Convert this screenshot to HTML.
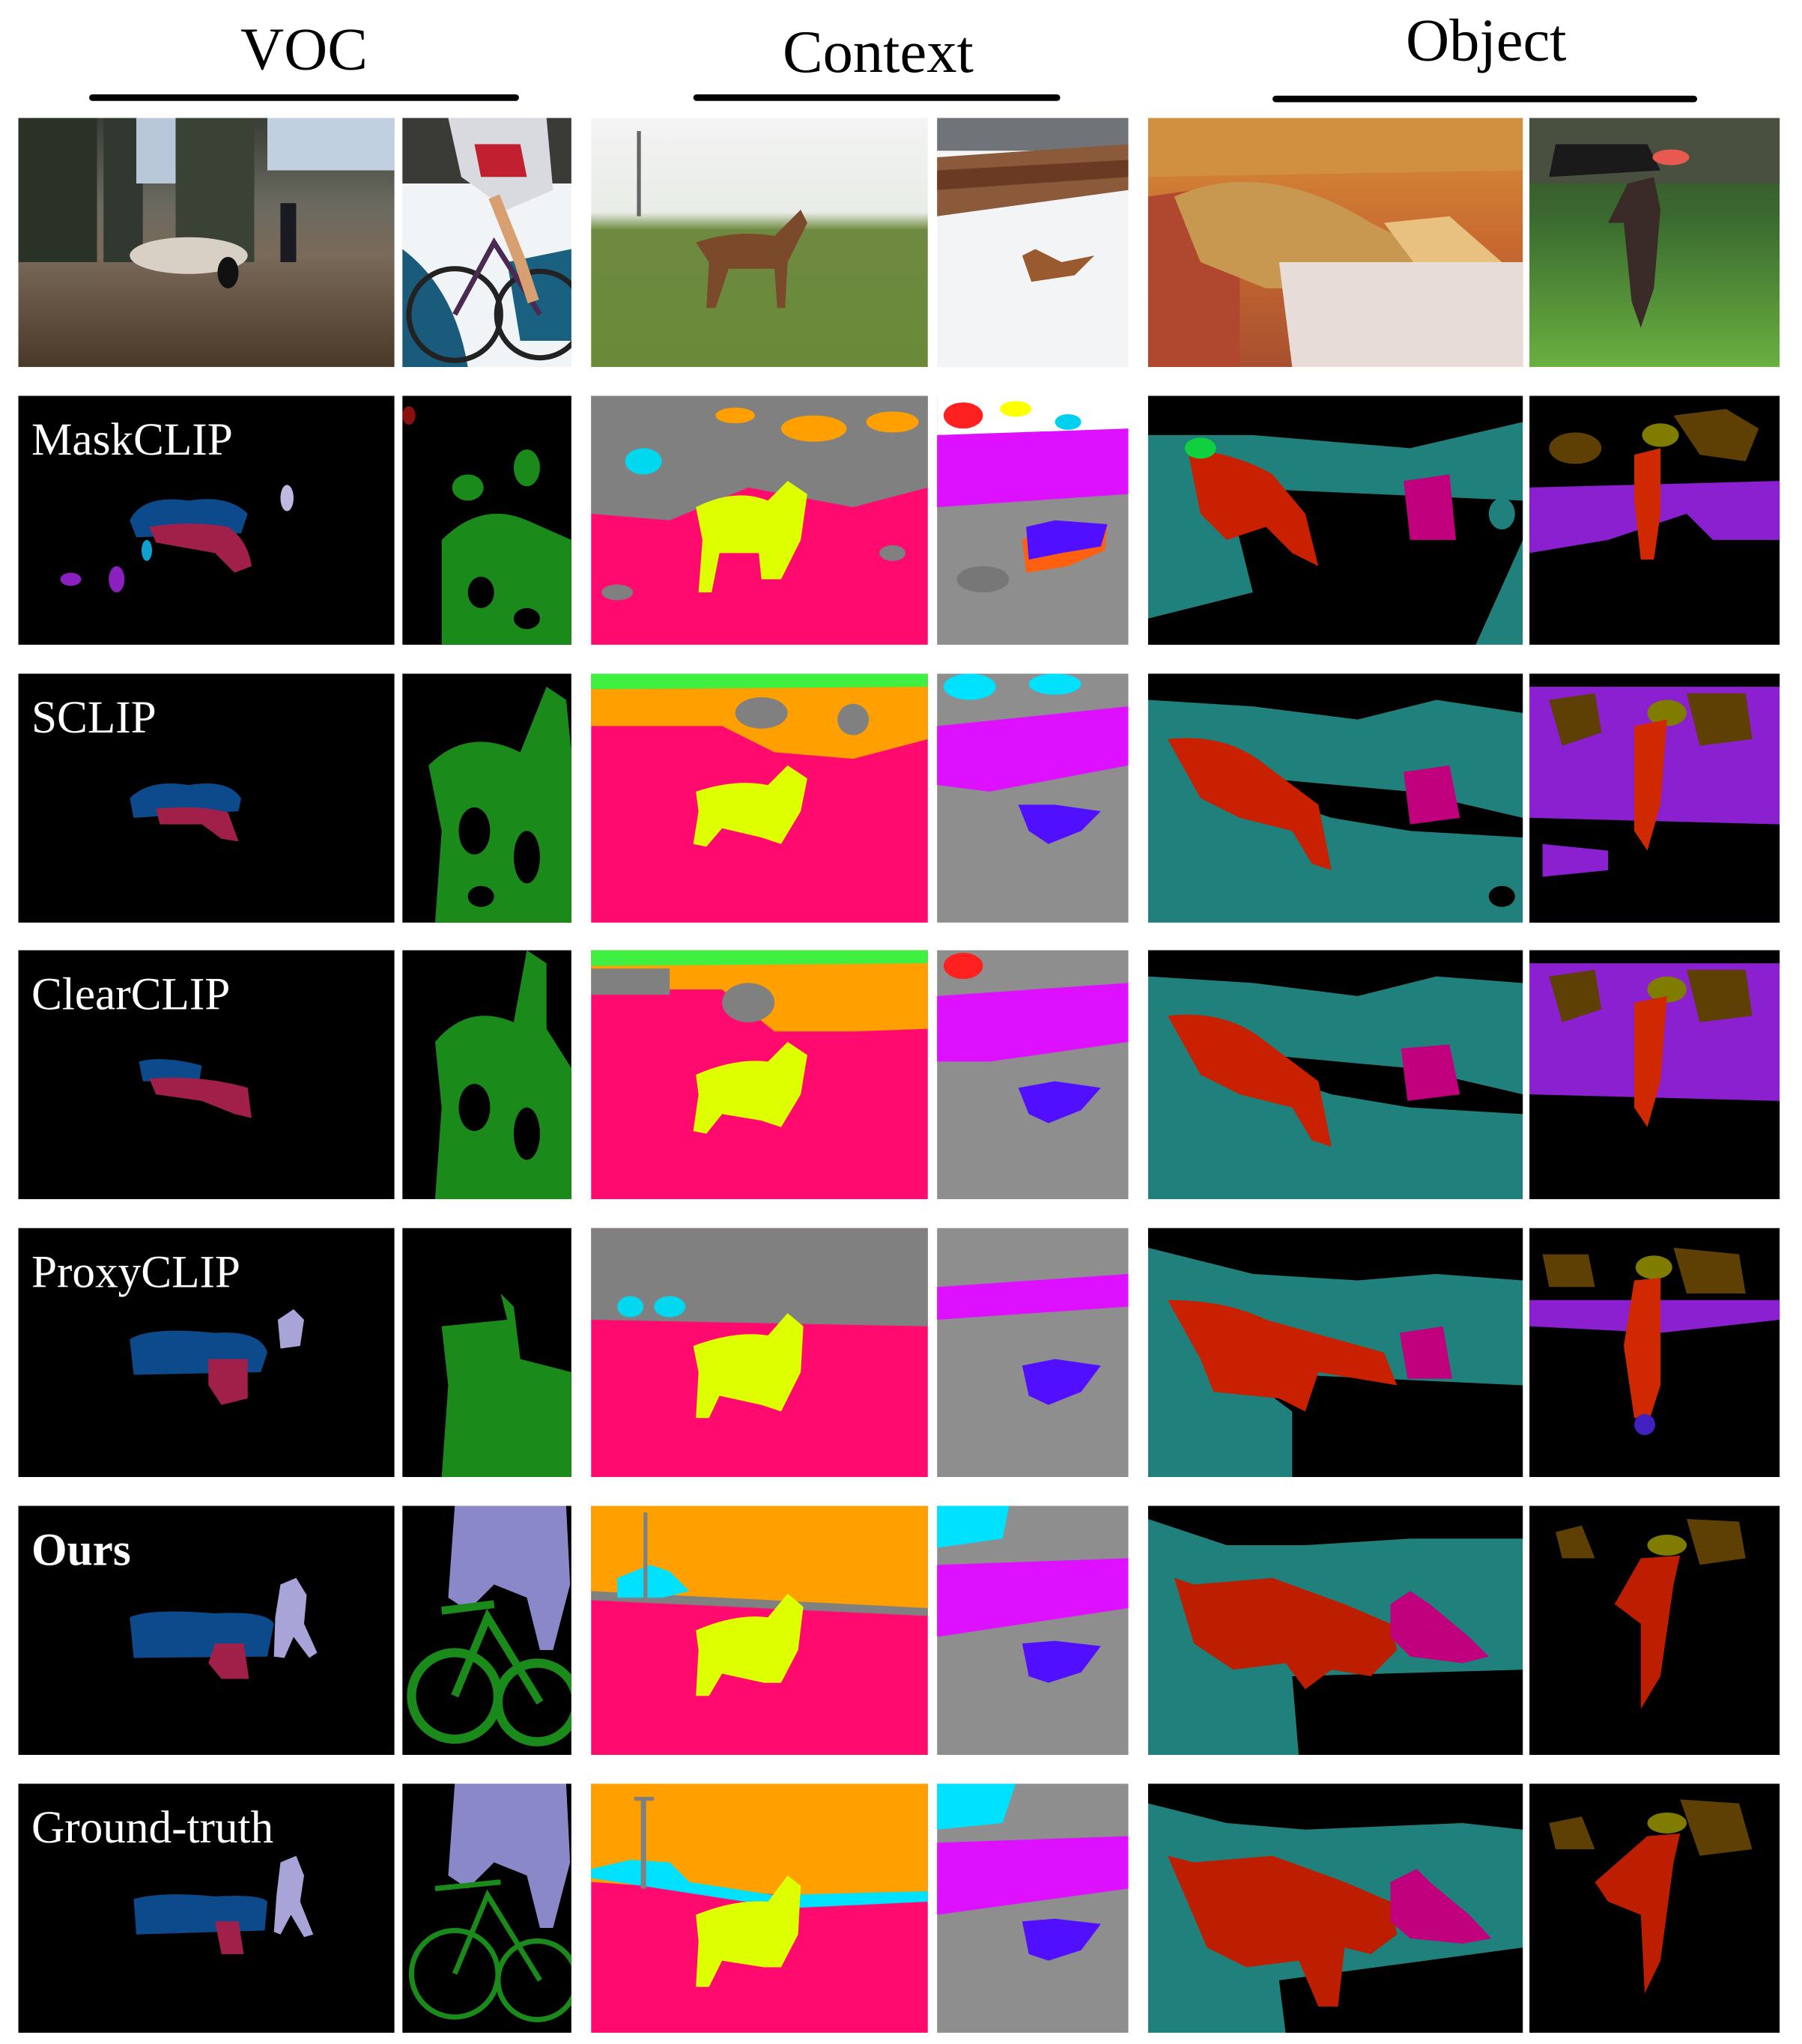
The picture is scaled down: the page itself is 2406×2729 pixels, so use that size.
<!DOCTYPE html>
<html><head><meta charset="utf-8"><style>
html,body{margin:0;padding:0;background:#fff;}
svg{display:block;}
.hd{font-family:"Liberation Serif",serif;font-size:46px;fill:#000;}
.lb{font-family:"Liberation Serif",serif;font-size:35px;fill:#fff;}
</style></head><body>
<svg width="2406" height="2729" viewBox="0 0 1375 1559.6" xmlns="http://www.w3.org/2000/svg">
<rect width="1375" height="1560" fill="#fff"/>
<defs>
<linearGradient id="g1" x1="0" y1="0" x2="0" y2="1"><stop offset="0" stop-color="#3a3e36"/><stop offset="0.35" stop-color="#6a6a60"/><stop offset="0.55" stop-color="#7a6a5a"/><stop offset="1" stop-color="#4a3828"/></linearGradient>
<linearGradient id="g3" x1="0" y1="0" x2="0" y2="1"><stop offset="0" stop-color="#f4f4f4"/><stop offset="0.38" stop-color="#e8ece6"/><stop offset="0.45" stop-color="#6e8a40"/><stop offset="1" stop-color="#6a8a38"/></linearGradient>
<linearGradient id="g5" x1="0" y1="0" x2="0" y2="1"><stop offset="0" stop-color="#d8903a"/><stop offset="0.5" stop-color="#c86a30"/><stop offset="1" stop-color="#a85030"/></linearGradient>
<linearGradient id="g6" x1="0" y1="0" x2="0" y2="1"><stop offset="0" stop-color="#3a4a2a"/><stop offset="0.4" stop-color="#3a6a30"/><stop offset="1" stop-color="#6ab040"/></linearGradient>
</defs>

<!-- headers -->
<text class="hd" x="232" y="53" text-anchor="middle">VOC</text>
<rect x="68" y="72" width="328" height="5" rx="2.5" fill="#000"/>
<text class="hd" x="670" y="55" text-anchor="middle">Context</text>
<rect x="529" y="72" width="280" height="5" rx="2.5" fill="#000"/>
<text class="hd" x="1134" y="46" text-anchor="middle">Object</text>
<rect x="971" y="73" width="324" height="5" rx="2.5" fill="#000"/>

<!-- ROW 0: photos -->
<svg x="14" y="90" width="287" height="190"><rect width="287" height="190" fill="url(#g1)"/><rect x="0" y="0" width="60" height="110" fill="#2a3228"/><rect x="65" y="0" width="30" height="110" fill="#303830"/><rect x="120" y="0" width="60" height="110" fill="#3a4236"/><rect x="90" y="0" width="30" height="50" fill="#b8c8d8"/><rect x="190" y="0" width="97" height="40" fill="#c0d0e0"/><ellipse cx="130" cy="105" rx="45" ry="14" fill="#d8d0c4"/><rect x="200" y="65" width="12" height="45" fill="#1a1a22"/><ellipse cx="160" cy="118" rx="8" ry="12" fill="#111"/></svg>
<svg x="307" y="90" width="129" height="190"><rect width="129" height="190" fill="#f0f4f6"/><rect width="129" height="50" fill="#3a3a36"/><path d="M0 100 Q40 130 50 190 L0 190Z" fill="#1a5a7a"/><path d="M80 110 L129 100 L129 170 L90 170Z" fill="#1a6080"/><path d="M35 0 L110 0 L115 55 L80 70 L45 45Z" fill="#d8dadf"/><path d="M55 20 L90 20 L95 45 L60 45Z" fill="#c02030"/><circle cx="40" cy="150" r="35" fill="none" stroke="#222" stroke-width="4"/><circle cx="105" cy="150" r="33" fill="none" stroke="#222" stroke-width="4"/><path d="M40 150 L70 95 L105 150" stroke="#4a2a50" stroke-width="4" fill="none"/><path d="M70 60 L90 110 L100 140" stroke="#d8a070" stroke-width="9" fill="none"/></svg>
<svg x="451" y="90" width="257" height="190"><rect width="257" height="190" fill="url(#g3)"/><rect x="35" y="10" width="3" height="65" fill="#666"/><path d="M80 95 Q110 85 140 90 L160 70 L165 80 L150 110 L148 145 L142 145 L140 115 L105 115 L95 145 L88 145 L90 110 Z" fill="#7a4a2a"/></svg>
<svg x="715" y="90" width="146" height="190"><rect width="146" height="190" fill="#f2f4f6"/><rect width="146" height="25" fill="#707478"/><path d="M0 30 L146 20 L146 55 L0 75Z" fill="#8a5a3a"/><path d="M0 40 L146 32 L146 45 L0 55Z" fill="#6a3a22"/><path d="M65 105 L75 100 L95 110 L120 105 L105 120 L72 125Z" fill="#9a5a30"/></svg>
<svg x="876" y="90" width="286" height="190"><rect width="286" height="190" fill="url(#g5)"/><path d="M0 0 L286 0 L286 40 L0 45Z" fill="#d09040"/><path d="M0 60 L70 50 L70 190 L0 190Z" fill="#b04830"/><path d="M20 60 Q90 30 170 80 L210 100 L200 130 L90 130 L40 110Z" fill="#c89850"/><path d="M180 80 L230 75 L270 110 L210 120Z" fill="#e8c080"/><path d="M100 110 L286 110 L286 190 L110 190Z" fill="#e8dcd8"/></svg>
<svg x="1167" y="90" width="191" height="190"><rect width="191" height="190" fill="url(#g6)"/><rect x="0" y="0" width="191" height="50" fill="#4a5040"/><path d="M20 20 L90 20 L100 40 L15 45Z" fill="#1a1a1a"/><ellipse cx="108" cy="30" rx="14" ry="6" fill="#e85a50"/><path d="M75 50 L95 45 L100 70 L95 130 L85 160 L78 140 L72 80 L60 80Z" fill="#3a2a28"/></svg>

<!-- ROW 1: MaskCLIP -->
<svg x="14" y="302" width="287" height="190"><rect width="287" height="190" fill="#000"/><path d="M85 95 Q95 75 130 80 Q160 75 175 90 L170 105 L90 108Z" fill="#0c4a8c"/><path d="M100 100 Q130 95 160 100 Q175 110 178 130 L165 135 L150 120 L105 112Z" fill="#a0204a"/><ellipse cx="40" cy="140" rx="8" ry="5" fill="#8a20c0"/><ellipse cx="75" cy="140" rx="6" ry="10" fill="#8a20c0"/><ellipse cx="205" cy="78" rx="5" ry="10" fill="#c0b8e0"/><ellipse cx="98" cy="118" rx="4" ry="8" fill="#10a0d0"/><text class="lb" x="10" y="45">MaskCLIP</text></svg>
<svg x="307" y="302" width="129" height="190"><rect width="129" height="190" fill="#000"/><path d="M30 110 Q60 80 95 95 L129 110 L129 190 L30 190Z" fill="#1a8a1a"/><ellipse cx="50" cy="70" rx="12" ry="10" fill="#1a8a1a"/><ellipse cx="95" cy="55" rx="10" ry="14" fill="#1a8a1a"/><ellipse cx="60" cy="150" rx="10" ry="12" fill="#000"/><ellipse cx="95" cy="170" rx="10" ry="8" fill="#000"/><ellipse cx="5" cy="15" rx="5" ry="7" fill="#8a1010"/></svg>
<svg x="451" y="302" width="257" height="190"><rect width="257" height="190" fill="#ff0a6e"/><path d="M0 0 L257 0 L257 70 L200 85 L120 70 L60 95 L0 90Z" fill="#808080"/><ellipse cx="170" cy="25" rx="25" ry="10" fill="#ffa000"/><ellipse cx="230" cy="20" rx="20" ry="8" fill="#ffa000"/><ellipse cx="110" cy="15" rx="15" ry="6" fill="#ffa000"/><ellipse cx="40" cy="50" rx="14" ry="10" fill="#00d8f0"/><path d="M80 85 Q110 70 135 80 L150 65 L165 75 L160 110 L145 140 L130 140 L128 120 L98 120 L92 150 L82 150 L85 110Z" fill="#deff00"/><ellipse cx="20" cy="150" rx="12" ry="6" fill="#808080"/><ellipse cx="230" cy="120" rx="10" ry="6" fill="#808080"/></svg>
<svg x="715" y="302" width="146" height="190"><rect width="146" height="190" fill="#8e8e8e"/><rect width="146" height="30" fill="#ffffff"/><path d="M0 30 L146 25 L146 75 L0 85Z" fill="#dd10ff"/><ellipse cx="20" cy="15" rx="15" ry="10" fill="#ff2020"/><ellipse cx="60" cy="10" rx="12" ry="6" fill="#ffff00"/><ellipse cx="100" cy="20" rx="10" ry="6" fill="#00d0f0"/><path d="M65 110 Q80 100 130 98 L128 118 L100 130 L68 135Z" fill="#ff6010"/><path d="M68 100 L90 95 L130 98 L125 115 L95 120 L70 125Z" fill="#5010ff"/><ellipse cx="35" cy="140" rx="20" ry="10" fill="#777"/></svg>
<svg x="876" y="302" width="286" height="190"><rect width="286" height="190" fill="#20807c"/><path d="M0 0 L286 0 L286 20 L200 40 L80 30 L0 30Z" fill="#000"/><path d="M60 70 L286 80 L286 110 L250 190 L0 190 L0 170 L80 150 L70 110Z" fill="#000"/><path d="M30 40 Q70 45 95 60 L120 90 L130 130 L110 120 L90 100 L60 110 L40 90Z" fill="#c82000"/><path d="M195 65 L230 60 L235 110 L200 110Z" fill="#c0007c"/><ellipse cx="40" cy="40" rx="12" ry="8" fill="#10d040"/><ellipse cx="270" cy="90" rx="10" ry="12" fill="#20807c"/></svg>
<svg x="1167" y="302" width="191" height="190"><rect width="191" height="190" fill="#000"/><path d="M110 15 L150 10 L175 25 L165 50 L130 45Z" fill="#5e4004"/><ellipse cx="35" cy="40" rx="20" ry="12" fill="#5e4004"/><ellipse cx="100" cy="30" rx="14" ry="9" fill="#807c00"/><path d="M0 70 L191 65 L191 110 L140 110 L120 90 L60 110 L0 120Z" fill="#8a20d0"/><path d="M80 45 L100 40 L100 90 L95 125 L85 125 L80 80Z" fill="#d02800"/></svg>

<!-- ROW 2: SCLIP -->
<svg x="14" y="514" width="287" height="190"><rect width="287" height="190" fill="#000"/><path d="M85 95 Q100 80 130 85 Q160 80 170 95 L168 105 L88 110Z" fill="#0c4a8c"/><path d="M105 103 Q140 100 160 106 L168 128 L155 126 L140 115 L108 115Z" fill="#a0204a"/><text class="lb" x="10" y="45">SCLIP</text></svg>
<svg x="307" y="514" width="129" height="190"><rect width="129" height="190" fill="#000"/><path d="M20 70 Q50 40 90 60 L110 10 L125 20 L129 60 L129 190 L25 190 L30 120Z" fill="#1a8a1a"/><ellipse cx="55" cy="120" rx="12" ry="18" fill="#000"/><ellipse cx="95" cy="140" rx="10" ry="20" fill="#000"/><ellipse cx="60" cy="170" rx="10" ry="8" fill="#000"/></svg>
<svg x="451" y="514" width="257" height="190"><rect width="257" height="190" fill="#ff0a6e"/><rect width="257" height="12" fill="#40f040"/><path d="M0 12 L257 10 L257 50 L200 65 L140 60 L100 40 L0 40Z" fill="#ffa000"/><ellipse cx="130" cy="30" rx="20" ry="12" fill="#808080"/><ellipse cx="200" cy="35" rx="12" ry="12" fill="#808080"/><path d="M80 90 Q110 80 135 85 L150 70 L165 80 L160 105 L145 130 L130 125 L100 118 L88 132 L78 130 L82 105Z" fill="#deff00"/></svg>
<svg x="715" y="514" width="146" height="190"><rect width="146" height="190" fill="#8e8e8e"/><ellipse cx="25" cy="10" rx="20" ry="10" fill="#00e0ff"/><ellipse cx="90" cy="8" rx="20" ry="8" fill="#00e0ff"/><path d="M0 40 L146 25 L146 70 L40 90 L0 85Z" fill="#dd10ff"/><path d="M62 100 L90 100 L125 105 L110 120 L85 130 L70 120Z" fill="#5010ff"/></svg>
<svg x="876" y="514" width="286" height="190"><rect width="286" height="190" fill="#20807c"/><path d="M0 0 L286 0 L286 30 L220 20 L160 35 L80 25 L0 20Z" fill="#000"/><path d="M90 80 L200 90 L286 110 L286 125 L200 120 L140 110 L110 100Z" fill="#000"/><path d="M15 50 Q60 45 90 70 L130 100 L140 150 L125 145 L110 120 L70 110 L40 95Z" fill="#c82000"/><path d="M195 75 L230 70 L238 110 L200 115Z" fill="#c0007c"/><ellipse cx="270" cy="170" rx="10" ry="8" fill="#000"/></svg>
<svg x="1167" y="514" width="191" height="190"><rect width="191" height="190" fill="#8a20d0"/><path d="M0 0 L191 0 L191 10 L0 10Z" fill="#000"/><path d="M15 20 L50 15 L55 45 L25 55Z" fill="#5e4004"/><path d="M120 15 L165 15 L170 50 L130 55Z" fill="#5e4004"/><ellipse cx="105" cy="30" rx="15" ry="10" fill="#807c00"/><path d="M0 110 L191 115 L191 190 L0 190Z" fill="#000"/><path d="M10 130 L60 135 L60 150 L10 155Z" fill="#8a20d0"/><path d="M80 40 L105 35 L100 100 L90 135 L80 120Z" fill="#d02800"/></svg>

<!-- ROW 3: ClearCLIP -->
<svg x="14" y="725" width="287" height="190"><rect width="287" height="190" fill="#000"/><path d="M92 85 Q110 80 140 88 L138 100 L95 100Z" fill="#0c4a8c"/><path d="M100 98 Q140 95 175 105 L178 128 L165 125 L140 115 L105 110Z" fill="#a0204a"/><text class="lb" x="10" y="45">ClearCLIP</text></svg>
<svg x="307" y="725" width="129" height="190"><rect width="129" height="190" fill="#000"/><path d="M25 70 Q50 40 85 55 L95 0 L110 10 L110 60 L129 90 L129 190 L25 190 L30 120Z" fill="#1a8a1a"/><ellipse cx="55" cy="120" rx="12" ry="18" fill="#000"/><ellipse cx="95" cy="140" rx="10" ry="20" fill="#000"/></svg>
<svg x="451" y="725" width="257" height="190"><rect width="257" height="190" fill="#ff0a6e"/><rect width="257" height="12" fill="#40f040"/><path d="M0 12 L257 10 L257 60 L200 62 L140 62 L100 30 L0 30Z" fill="#ffa000"/><rect x="0" y="14" width="60" height="20" fill="#808080"/><ellipse cx="120" cy="40" rx="20" ry="15" fill="#808080"/><path d="M80 95 Q110 82 135 85 L150 70 L165 80 L160 110 L145 135 L130 130 L100 125 L88 140 L78 138 L82 110Z" fill="#deff00"/></svg>
<svg x="715" y="725" width="146" height="190"><rect width="146" height="190" fill="#8e8e8e"/><ellipse cx="20" cy="12" rx="15" ry="10" fill="#ff2020"/><path d="M0 35 L146 25 L146 70 L40 85 L0 85Z" fill="#dd10ff"/><path d="M62 105 L90 100 L125 105 L110 122 L85 132 L70 125Z" fill="#5010ff"/></svg>
<svg x="876" y="725" width="286" height="190"><rect width="286" height="190" fill="#20807c"/><path d="M0 0 L286 0 L286 25 L220 20 L160 35 L80 25 L0 20Z" fill="#000"/><path d="M90 80 L200 90 L286 110 L286 125 L200 120 L140 110 L110 100Z" fill="#000"/><path d="M15 50 Q60 45 90 70 L130 100 L140 150 L125 145 L110 120 L70 110 L40 95Z" fill="#c82000"/><path d="M193 75 L230 72 L238 110 L198 115Z" fill="#c0007c"/></svg>
<svg x="1167" y="725" width="191" height="190"><rect width="191" height="190" fill="#8a20d0"/><path d="M0 0 L191 0 L191 10 L0 10Z" fill="#000"/><path d="M15 20 L50 15 L55 45 L25 55Z" fill="#5e4004"/><path d="M120 15 L165 15 L170 50 L130 55Z" fill="#5e4004"/><ellipse cx="105" cy="30" rx="15" ry="10" fill="#807c00"/><path d="M0 110 L191 115 L191 190 L0 190Z" fill="#000"/><path d="M80 40 L105 35 L100 100 L90 135 L80 120Z" fill="#d02800"/></svg>

<!-- ROW 4: ProxyCLIP -->
<svg x="14" y="937" width="287" height="190"><rect width="287" height="190" fill="#000"/><path d="M85 85 Q100 75 150 80 Q185 78 190 95 L185 110 L88 112Z" fill="#0c4a8c"/><path d="M145 100 L175 100 L175 130 L155 135 L145 120Z" fill="#a0204a"/><path d="M198 70 L210 62 L218 70 L215 90 L200 92Z" fill="#a8a4d8"/><text class="lb" x="10" y="45">ProxyCLIP</text></svg>
<svg x="307" y="937" width="129" height="190"><rect width="129" height="190" fill="#000"/><path d="M30 75 L80 70 L75 50 L85 60 L90 100 L129 110 L129 190 L30 190 L35 120Z" fill="#1a8a1a"/></svg>
<svg x="451" y="937" width="257" height="190"><rect width="257" height="190" fill="#ff0a6e"/><path d="M0 0 L257 0 L257 75 L0 70Z" fill="#808080"/><ellipse cx="30" cy="60" rx="10" ry="8" fill="#00d8f0"/><ellipse cx="60" cy="60" rx="12" ry="8" fill="#00d8f0"/><path d="M78 90 Q110 78 135 82 L150 65 L162 75 L160 110 L145 140 L130 135 L98 128 L90 145 L80 145 L82 110Z" fill="#deff00"/></svg>
<svg x="715" y="937" width="146" height="190"><rect width="146" height="190" fill="#8e8e8e"/><path d="M0 45 L146 35 L146 60 L0 70Z" fill="#dd10ff"/><path d="M65 105 L90 100 L125 105 L110 125 L85 135 L70 128Z" fill="#5010ff"/></svg>
<svg x="876" y="937" width="286" height="190"><rect width="286" height="190" fill="#20807c"/><path d="M0 0 L286 0 L286 40 L220 35 L160 40 L80 35 L0 15Z" fill="#000"/><path d="M70 110 L286 120 L286 190 L110 190 L110 140Z" fill="#000"/><path d="M15 55 Q60 55 90 70 L180 95 L190 120 L130 110 L120 140 L100 130 L50 125 L40 100Z" fill="#c82000"/><path d="M192 80 L225 75 L232 115 L198 115Z" fill="#c0007c"/></svg>
<svg x="1167" y="937" width="191" height="190"><rect width="191" height="190" fill="#000"/><path d="M10 20 L45 20 L50 45 L15 45Z" fill="#5e4004"/><path d="M110 15 L160 20 L165 50 L120 50Z" fill="#5e4004"/><ellipse cx="95" cy="30" rx="14" ry="9" fill="#807c00"/><path d="M0 55 L191 55 L191 70 L100 80 L0 75Z" fill="#8a20d0"/><path d="M80 40 L100 38 L100 120 L92 145 L80 145 L72 90Z" fill="#d02800"/><ellipse cx="88" cy="150" rx="8" ry="8" fill="#4020c0"/></svg>

<!-- ROW 5: Ours -->
<svg x="14" y="1149" width="287" height="190"><rect width="287" height="190" fill="#000"/><path d="M85 85 Q100 78 150 82 Q190 80 195 90 L190 115 L88 116Z" fill="#0c4a8c"/><path d="M150 105 L172 105 L176 132 L155 132 L145 120Z" fill="#a0204a"/><path d="M200 60 L212 55 L220 68 L218 90 L228 112 L222 116 L210 100 L203 116 L195 115 L196 85Z" fill="#a8a4d8"/><text class="lb" x="10" y="45" font-weight="bold">Ours</text></svg>
<svg x="307" y="1149" width="129" height="190"><rect width="129" height="190" fill="#000"/><path d="M40 0 L125 0 L128 60 L115 110 L105 110 L95 70 L70 60 L50 80 L35 70Z" fill="#8a88c8"/><circle cx="40" cy="145" r="33" fill="none" stroke="#1a8a1a" stroke-width="7"/><circle cx="103" cy="150" r="30" fill="none" stroke="#1a8a1a" stroke-width="7"/><path d="M40 145 L65 85 L105 150 M30 80 L70 75" stroke="#1a8a1a" stroke-width="6" fill="none"/></svg>
<svg x="451" y="1149" width="257" height="190"><rect width="257" height="190" fill="#ff0a6e"/><path d="M0 0 L257 0 L257 82 L150 76 L0 70Z" fill="#ffa000"/><path d="M0 65 L257 78 L257 84 L0 72Z" fill="#808080"/><path d="M20 55 L45 45 L60 50 L75 65 L55 70 L20 70Z" fill="#00e0ff"/><rect x="40" y="5" width="3" height="65" fill="#808080"/><path d="M80 95 Q110 82 135 85 L150 67 L162 77 L158 110 L145 135 L132 135 L100 128 L90 145 L80 145 L82 110Z" fill="#deff00"/></svg>
<svg x="715" y="1149" width="146" height="190"><rect width="146" height="190" fill="#8e8e8e"/><path d="M0 0 L55 0 L50 25 L0 32Z" fill="#00e0ff"/><path d="M0 45 L146 40 L146 78 L0 100Z" fill="#dd10ff"/><path d="M65 105 L90 103 L125 107 L110 127 L85 135 L70 130Z" fill="#5010ff"/></svg>
<svg x="876" y="1149" width="286" height="190"><rect width="286" height="190" fill="#20807c"/><path d="M0 0 L286 0 L286 25 L200 25 L120 30 L60 30 L0 10Z" fill="#000"/><path d="M110 130 L286 125 L286 190 L115 190Z" fill="#000"/><path d="M20 55 L35 60 L95 55 L150 75 L185 90 L190 110 L170 130 L140 125 L120 140 L105 120 L65 125 L35 105Z" fill="#be1e00"/><path d="M185 75 L200 65 L215 75 L245 100 L260 115 L240 120 L200 115 L185 100Z" fill="#c0007c"/></svg>
<svg x="1167" y="1149" width="191" height="190"><rect width="191" height="190" fill="#000"/><path d="M20 20 L40 15 L50 40 L25 40Z" fill="#5e4004"/><path d="M120 10 L160 12 L165 40 L130 45Z" fill="#5e4004"/><ellipse cx="105" cy="30" rx="15" ry="8" fill="#807c00"/><path d="M85 40 L115 38 L110 60 L100 130 L85 155 L85 90 L65 75Z" fill="#be1e00"/></svg>

<!-- ROW 6: Ground-truth -->
<svg x="14" y="1361" width="287" height="190"><rect width="287" height="190" fill="#000"/><path d="M88 88 Q110 82 150 86 Q185 84 190 90 L188 112 L90 115Z" fill="#0c4a8c"/><path d="M150 105 L168 105 L172 130 L155 130Z" fill="#a0204a"/><path d="M200 60 L212 55 L218 70 L215 90 L225 115 L218 117 L208 100 L200 115 L195 113 L197 85Z" fill="#a8a4d8"/><text class="lb" x="10" y="45">Ground-truth</text></svg>
<svg x="307" y="1361" width="129" height="190"><rect width="129" height="190" fill="#000"/><path d="M40 0 L125 0 L128 60 L115 110 L105 110 L95 70 L70 60 L50 80 L35 70Z" fill="#8a88c8"/><circle cx="40" cy="145" r="33" fill="none" stroke="#1a8a1a" stroke-width="4"/><circle cx="103" cy="150" r="30" fill="none" stroke="#1a8a1a" stroke-width="4"/><path d="M40 145 L65 85 L105 150 M25 80 L75 75" stroke="#1a8a1a" stroke-width="4" fill="none"/></svg>
<svg x="451" y="1361" width="257" height="190"><rect width="257" height="190" fill="#ff0a6e"/><path d="M0 0 L257 0 L257 87 L150 85 L0 75Z" fill="#ffa000"/><path d="M0 65 L30 58 L60 60 L75 75 L140 85 L257 82 L257 90 L150 95 L0 72Z" fill="#00e0ff"/><rect x="38" y="10" width="4" height="70" fill="#808080"/><rect x="33" y="10" width="15" height="3" fill="#808080"/><path d="M80 100 Q110 88 135 90 L150 70 L160 78 L158 115 L145 140 L132 140 L100 135 L90 155 L80 155 L82 120Z" fill="#deff00"/></svg>
<svg x="715" y="1361" width="146" height="190"><rect width="146" height="190" fill="#8e8e8e"/><path d="M0 0 L60 0 L50 30 L0 35Z" fill="#00e0ff"/><path d="M0 45 L146 40 L146 80 L0 100Z" fill="#dd10ff"/><path d="M65 105 L90 103 L125 107 L110 127 L85 135 L70 130Z" fill="#5010ff"/></svg>
<svg x="876" y="1361" width="286" height="190"><rect width="286" height="190" fill="#20807c"/><path d="M0 0 L286 0 L286 35 L240 30 L120 35 L60 30 L0 15Z" fill="#000"/><path d="M100 150 L286 125 L286 190 L105 190Z" fill="#000"/><path d="M15 55 L35 60 L95 55 L150 75 L185 90 L190 115 L170 130 L150 125 L145 170 L130 170 L115 135 L75 140 L45 125Z" fill="#be1e00"/><path d="M185 75 L205 65 L215 75 L245 100 L262 118 L240 122 L200 118 L185 105Z" fill="#c0007c"/></svg>
<svg x="1167" y="1361" width="191" height="190"><rect width="191" height="190" fill="#000"/><path d="M15 30 L40 25 L50 50 L20 50Z" fill="#5e4004"/><path d="M115 12 L160 15 L170 50 L130 55Z" fill="#5e4004"/><ellipse cx="105" cy="30" rx="15" ry="8" fill="#807c00"/><path d="M90 40 L115 38 L110 60 L100 135 L88 160 L85 100 L60 90 L50 75Z" fill="#be1e00"/></svg>
</svg>
</body></html>
